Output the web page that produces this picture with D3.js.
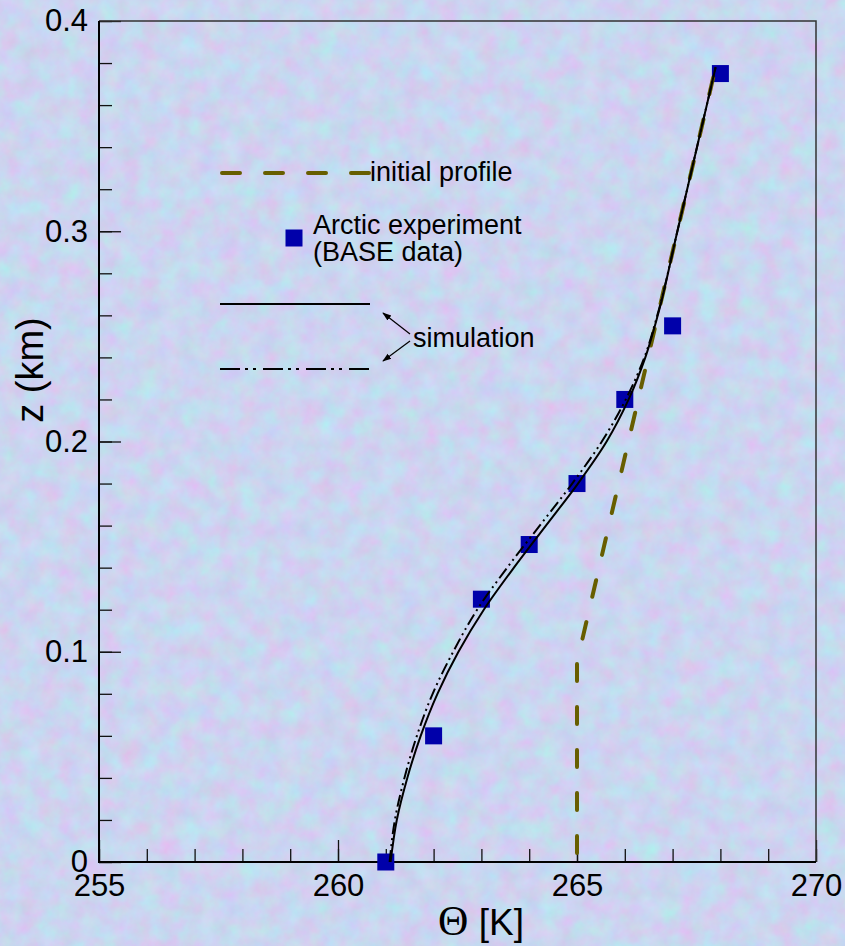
<!DOCTYPE html>
<html>
<head>
<meta charset="utf-8">
<script src="https://cdn.jsdelivr.net/npm/d3@7"></script>
<style>
  html, body { margin: 0; padding: 0; background: #c9d5f2; }
  svg { display: block; font-family: "Liberation Sans", Arial, sans-serif; }
</style>
</head>
<body>
<svg id="chart" width="845" height="946"></svg>
<script>
// tick values
const thetaMajor = [255, 260, 265, 270];
const thetaMinor = d3.range(255, 271, 1);
const zMajor = [0, 0.1, 0.2, 0.3, 0.4];
const zMinor = d3.range(0, 0.401, 0.02);

// Arctic experiment (BASE data)
const baseTheta = [261, 262, 263, 264, 265, 266, 267, 268];
const baseZ = [0, 0.06, 0.125, 0.151, 0.18, 0.22, 0.255, 0.375];

// initial profile
const initTheta = [265, 265, 267.9];
const initZ = [0, 0.095, 0.378];

// simulation (solid)
const simZ = [0, 0.02, 0.04, 0.06, 0.08, 0.10, 0.12, 0.14, 0.16, 0.18, 0.20, 0.22, 0.24, 0.26, 0.30, 0.34, 0.378];
const simTheta = [261.10, 261.23, 261.45, 261.73, 262.08, 262.52, 263.05, 263.68, 264.35, 265.02, 265.62, 266.08, 266.43, 266.69, 267.10, 267.51, 267.90];
// simulation (dash-dot)
const sim2Theta = [261.08, 261.19, 261.39, 261.65, 261.98, 262.41, 262.91, 263.54, 264.22, 264.90, 265.52, 266.02, 266.41, 266.68, 267.10, 267.51, 267.90];

const svg = d3.select('#chart');
const W = 845, H = 946;
const M = { left: 99, right: 816, top: 21, bottom: 862 };

// textured background
const defs = svg.append('defs');
const filt = defs.append('filter').attr('id', 'paper')
  .attr('color-interpolation-filters', 'sRGB')
  .attr('x', 0).attr('y', 0).attr('width', '100%').attr('height', '100%');
filt.append('feTurbulence').attr('type', 'fractalNoise')
  .attr('baseFrequency', 0.05).attr('numOctaves', 4).attr('seed', 7);
filt.append('feColorMatrix').attr('type', 'matrix')
  .attr('values', '0.17 -0.09 0 0 0.755  -0.09 0.16 0 0 0.8  0 0 0.08 0 0.9  0 0 0 0 1');
svg.append('rect').attr('width', W).attr('height', H).attr('filter', 'url(#paper)');

const marker = defs.append('marker').attr('id', 'arrow')
  .attr('viewBox', '0 0 10 10').attr('refX', 9).attr('refY', 5)
  .attr('markerWidth', 9).attr('markerHeight', 9).attr('orient', 'auto')
  .attr('markerUnits', 'userSpaceOnUse');
marker.append('path').attr('d', 'M0,1.5 L10,5 L0,8.5 Z').attr('fill', '#000');

const x = d3.scaleLinear().domain([255, 270]).range([M.left, M.right]);
const y = d3.scaleLinear().domain([0, 0.4]).range([M.bottom, M.top]);

// axes
const xMinorAxis = d3.axisBottom(x).tickValues(thetaMinor).tickSize(-13).tickFormat('');
const xMajorAxis = d3.axisBottom(x).tickValues(thetaMajor).tickSize(-22).tickPadding(12).tickFormat(d3.format('d'));
const yMinorAxis = d3.axisLeft(y).tickValues(zMinor).tickSize(-13).tickFormat('');
const yMajorAxis = d3.axisLeft(y).tickValues(zMajor).tickSize(-22).tickPadding(11)
  .tickFormat(d => d === 0 ? '0' : d3.format('.1f')(d));

[xMinorAxis, xMajorAxis].forEach(ax => {
  svg.append('g').attr('transform', 'translate(0,' + M.bottom + ')').call(ax);
});
[yMinorAxis, yMajorAxis].forEach(ax => {
  svg.append('g').attr('transform', 'translate(' + M.left + ',0)').call(ax);
});
svg.selectAll('.domain').remove();
svg.selectAll('.tick line').attr('stroke', '#111').attr('stroke-width', 1.3);
svg.selectAll('.tick text').attr('fill', '#000').style('font-size', '31px')
  .style('font-family', '"Liberation Sans", Arial, sans-serif');

// frame
svg.append('path')
  .attr('d', `M${M.left},${M.top}H${M.right}V${M.bottom}`)
  .attr('fill', 'none').attr('stroke', '#333').attr('stroke-width', 1.5);
svg.append('path')
  .attr('d', `M${M.left},${M.top}V${M.bottom}H${M.right}`)
  .attr('fill', 'none').attr('stroke', '#000').attr('stroke-width', 2);

// axis titles
const xt = svg.append('text').attr('x', 481).attr('y', 935)
  .attr('text-anchor', 'middle').style('font-size', '37px').attr('fill', '#000');
xt.append('tspan').style('font-family', '"Liberation Serif", "Times New Roman", serif')
  .style('font-size', '42px').text('Θ');
xt.append('tspan').text(' [K]');

svg.append('text')
  .attr('transform', 'translate(43,370) rotate(-90)')
  .attr('text-anchor', 'middle').style('font-size', '38px').attr('fill', '#000')
  .text('z (km)');

// data points
const sq = 17;
svg.append('g').selectAll('rect')
  .data(baseTheta.map((t, i) => [t, baseZ[i]]))
  .join('rect')
  .attr('x', d => x(d[0]) - sq / 2)
  .attr('y', d => y(d[1]) - sq / 2)
  .attr('width', sq).attr('height', sq)
  .attr('fill', '#0000aa');

// initial profile
const lineLin = d3.line().x(d => x(d[0])).y(d => y(d[1]));
svg.append('path')
  .attr('d', lineLin(initTheta.map((t, i) => [t, initZ[i]])))
  .attr('fill', 'none').attr('stroke', '#675e00').attr('stroke-width', 4)
  .attr('stroke-linecap', 'round').attr('stroke-dasharray', '17,26')
  .attr('stroke-dashoffset', 34);

// simulations
const lineSmooth = d3.line().x(d => x(d[0])).y(d => y(d[1])).curve(d3.curveMonotoneY);
svg.append('path')
  .attr('d', lineSmooth(simTheta.map((t, i) => [t, simZ[i]])))
  .attr('fill', 'none').attr('stroke', '#000').attr('stroke-width', 2);
svg.append('path')
  .attr('d', lineSmooth(sim2Theta.map((t, i) => [t, simZ[i]])))
  .attr('fill', 'none').attr('stroke', '#000').attr('stroke-width', 2)
  .attr('stroke-dasharray', '12,4,2,4,2,4');

// legend
const lg = svg.append('g');
lg.append('line').attr('x1', 220).attr('x2', 370).attr('y1', 173).attr('y2', 173)
  .attr('stroke', '#675e00').attr('stroke-width', 4)
  .attr('stroke-linecap', 'round').attr('stroke-dasharray', '18,25').attr('stroke-dashoffset', -2);
lg.append('text').attr('x', 370).attr('y', 181).style('font-size', '27px').text('initial profile');

lg.append('rect').attr('x', 294 - sq / 2).attr('y', 238 - sq / 2)
  .attr('width', sq).attr('height', sq).attr('fill', '#0000aa');
lg.append('text').attr('x', 313).attr('y', 234).style('font-size', '27px').text('Arctic experiment');
lg.append('text').attr('x', 313).attr('y', 261).style('font-size', '27px').text('(BASE data)');

lg.append('line').attr('x1', 220).attr('x2', 370).attr('y1', 304).attr('y2', 304)
  .attr('stroke', '#000').attr('stroke-width', 2);
lg.append('line').attr('x1', 220).attr('x2', 370).attr('y1', 369).attr('y2', 369)
  .attr('stroke', '#000').attr('stroke-width', 2).attr('stroke-dasharray', '20,5,3,5,3,7');

lg.append('line').attr('x1', 410).attr('y1', 334).attr('x2', 383).attr('y2', 313)
  .attr('stroke', '#000').attr('stroke-width', 1.2).attr('marker-end', 'url(#arrow)');
lg.append('line').attr('x1', 410).attr('y1', 341).attr('x2', 383).attr('y2', 361)
  .attr('stroke', '#000').attr('stroke-width', 1.2).attr('marker-end', 'url(#arrow)');
lg.append('text').attr('x', 413).attr('y', 347).style('font-size', '27px').text('simulation');
</script>
</body>
</html>
